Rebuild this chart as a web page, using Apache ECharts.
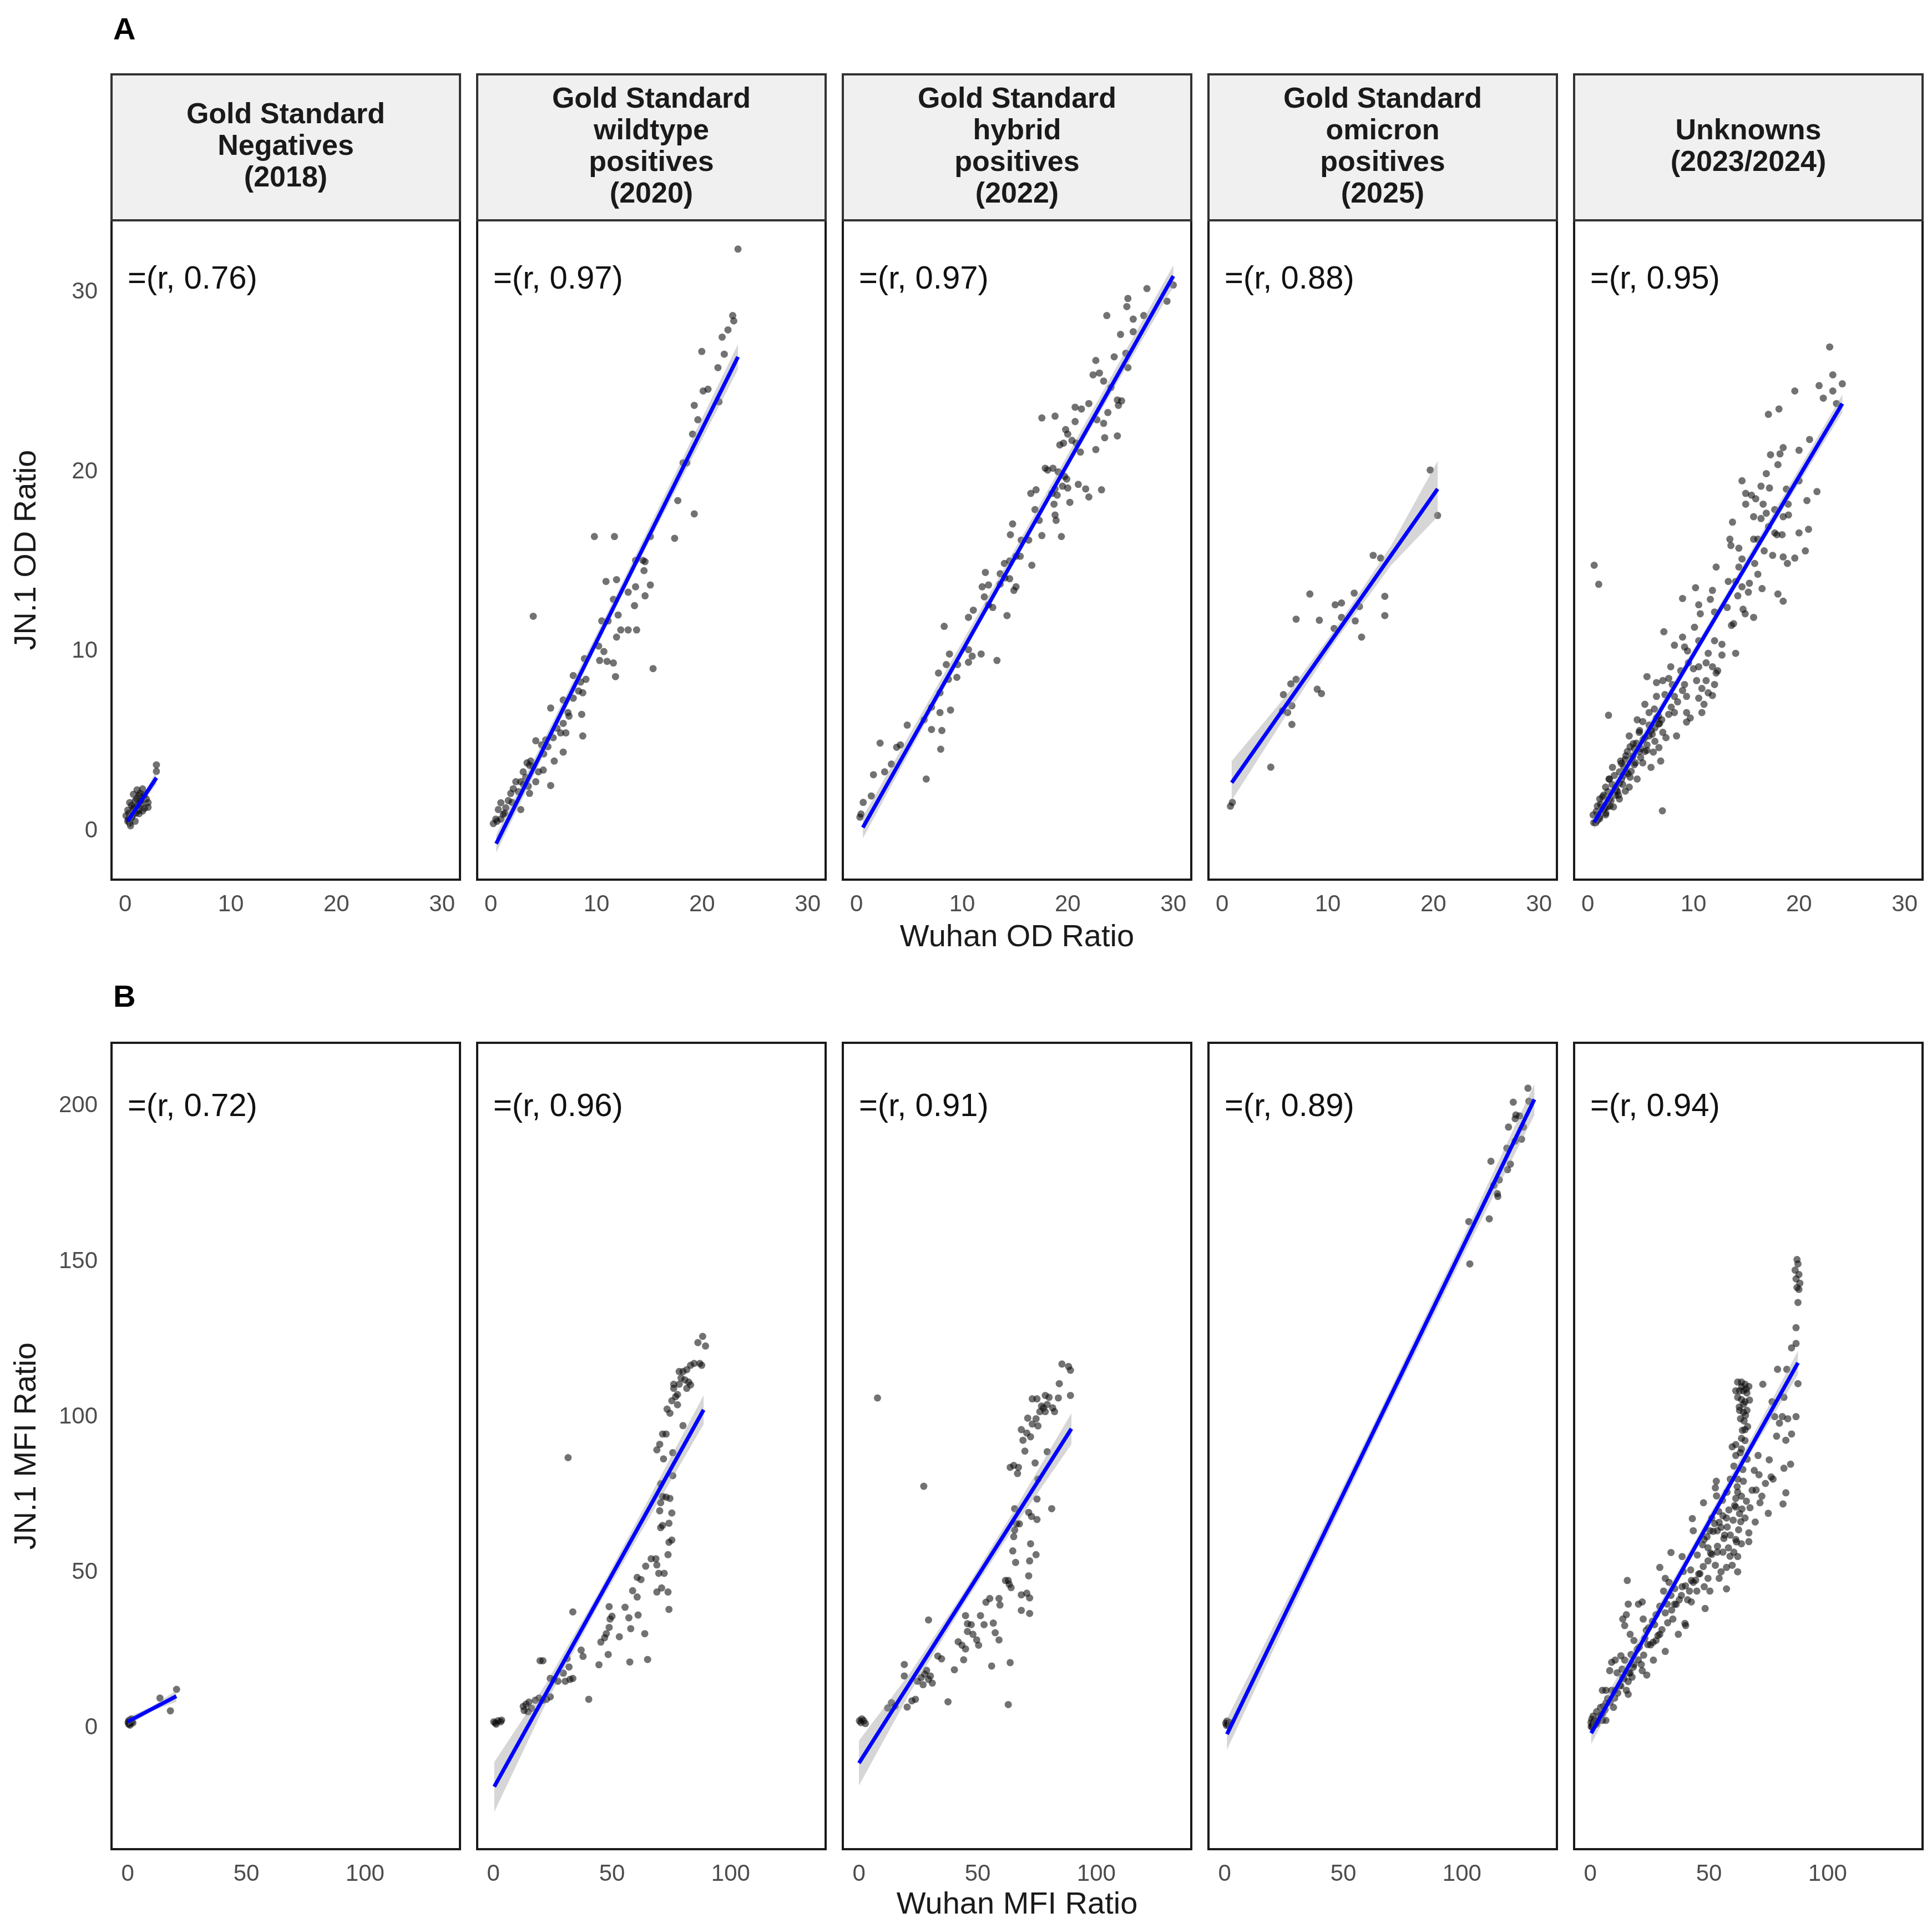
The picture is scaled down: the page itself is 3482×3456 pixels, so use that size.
<!DOCTYPE html>
<html lang="en">
<head>
<meta charset="UTF-8">
<title>JN.1 vs Wuhan ratios</title>
<script src="https://cdn.jsdelivr.net/npm/echarts@6/dist/echarts.min.js"></script>
<style>
  html, body { margin: 0; padding: 0; background: #fff; }
  #chart { width: 3482px; height: 3456px; }
</style>
</head>
<body>
<div id="chart"></div>
<script>
// ---- data ----
const panelTitles = [
  'Gold Standard\nNegatives\n(2018)',
  'Gold Standard\nwildtype\npositives\n(2020)',
  'Gold Standard\nhybrid\npositives\n(2022)',
  'Gold Standard\nomicron\npositives\n(2025)',
  'Unknowns\n(2023/2024)'
];
const rOD = ['0.76', '0.97', '0.97', '0.88', '0.95'];
const rMFI = ['0.72', '0.96', '0.91', '0.89', '0.94'];

const odTicks = [0, 10, 20, 30];
const mfiXTicks = [0, 50, 100];
const mfiYTicks = [0, 50, 100, 150, 200];

// panel A: OD ratio (x = Wuhan, y = JN.1)
const odNeg = [[2.95,3.69],[2.95,3.33],[0.24,0.55],[1.12,2.3],[1.64,2.35],[0.77,2.05],[1.3,1.99],[2.0,1.79],[2.16,1.59],[0.42,1.59],[0.94,1.69],[1.47,1.69],[0.24,1.17],[0.77,1.27],[1.82,1.27],[0.07,0.86],[0.6,0.76],[1.3,0.97],[0.42,0.45],[0.94,0.55],[1.64,1.12],[0.6,1.43],[2.16,1.33],[1.2,1.43],[0.5,0.3],[0.3,0.65],[1.0,1.0],[1.4,2.1],[1.8,2.0],[1.1,1.8],[0.7,0.9],[0.35,1.0],[1.55,1.5],[0.85,1.3],[1.25,1.15]];

const odWild = [[23.4,32.4],[22.9,28.7],[23.0,28.4],[22.45,27.9],[21.9,27.5],[19.97,26.7],[22.1,26.55],[21.5,25.8],[21.6,23.9],[20.56,24.6],[20.1,24.5],[19.26,23.7],[19.6,22.9],[19.1,22.1],[18.55,20.5],[18.2,20.5],[17.7,18.4],[19.26,17.66],[17.4,16.3],[9.8,16.4],[11.7,16.4],[15.1,16.4],[13.7,15.07],[14.4,15.07],[14.6,15.0],[14.5,14.5],[10.9,13.9],[11.9,14.0],[15.1,13.7],[13.0,13.3],[13.7,13.6],[14.6,13.1],[13.6,12.55],[11.6,12.9],[12.05,12.03],[4.01,11.96],[10.5,11.7],[11.1,11.7],[12.3,11.2],[13.0,11.2],[13.8,11.2],[11.9,10.8],[10.2,10.3],[10.7,10.0],[10.3,9.5],[11.0,9.45],[11.6,9.36],[15.36,9.05],[11.8,8.6],[8.86,9.6],[7.8,8.66],[8.5,8.3],[9.0,8.45],[8.3,7.8],[8.7,7.7],[7.8,7.4],[5.66,6.85],[8.6,6.5],[6.85,7.3],[7.3,6.6],[7.4,6.4],[6.85,6.0],[6.6,5.47],[7.1,5.47],[8.7,5.3],[6.26,5.73],[5.9,5.2],[6.85,4.4],[6.0,3.9],[5.66,2.54],[4.25,5.03],[4.8,4.8],[5.2,5.08],[5.4,4.7],[4.96,3.4],[4.5,3.3],[4.25,2.75],[3.42,3.8],[3.66,3.66],[3.77,3.9],[3.06,3.3],[3.3,3.0],[2.83,2.75],[3.66,2.1],[3.54,2.5],[2.36,2.75],[2.12,2.36],[1.88,2.1],[1.65,1.7],[2.83,1.2],[0.94,1.58],[0.7,1.2],[1.17,0.93],[0.46,0.67],[0.23,0.42],[0.58,0.55],[0.94,0.67],[1.41,1.3],[2.6,2.2],[3.1,2.6],[1.3,1.0],[2.0,1.6],[4.0,3.6],[5.0,4.3]];

const odHybrid = [[30.0,30.4],[29.4,29.5],[27.5,30.2],[25.7,29.65],[25.6,29.2],[23.7,28.7],[26.2,28.5],[27.2,28.7],[25.0,27.65],[26.2,27.8],[24.4,26.4],[25.7,25.8],[25.5,26.6],[22.66,26.2],[23.0,25.5],[22.4,25.4],[23.4,25.05],[24.1,24.7],[24.7,24.0],[25.1,23.95],[24.8,23.7],[23.8,23.3],[22.0,23.8],[20.7,23.6],[21.3,23.5],[17.55,23.0],[18.8,23.1],[20.7,22.8],[22.76,22.9],[23.4,22.7],[23.5,21.9],[24.7,22.0],[22.66,21.24],[19.8,22.35],[20.0,22.1],[19.25,21.5],[19.6,21.6],[20.4,21.75],[20.8,21.6],[21.2,21.1],[17.87,20.2],[18.1,20.1],[18.6,20.2],[19.1,20.0],[19.7,19.75],[19.9,19.6],[19.5,19.2],[20.0,19.1],[18.8,19.05],[18.5,18.8],[19.0,18.7],[18.7,18.2],[18.9,17.3],[18.8,17.6],[21.0,19.3],[21.7,19.05],[22.0,18.6],[23.2,19.0],[20.2,18.3],[19.4,16.4],[17.55,16.45],[17.3,17.3],[16.9,17.9],[17.0,19.0],[16.5,18.8],[14.78,17.1],[14.57,16.5],[15.6,16.2],[16.3,16.2],[15.1,15.3],[15.5,15.3],[14.0,14.9],[14.5,15.04],[16.6,14.8],[13.6,14.33],[14.04,14.1],[14.5,14.05],[12.2,14.4],[11.9,13.6],[12.5,13.7],[13.6,13.75],[15.1,13.6],[14.9,13.4],[12.1,13.04],[12.5,12.6],[12.9,12.45],[14.25,12.0],[10.6,11.9],[11.06,12.3],[8.3,11.4],[8.8,9.86],[8.5,9.27],[9.57,9.27],[8.7,8.45],[9.5,8.56],[10.6,10.1],[10.95,9.74],[11.8,9.86],[10.6,9.4],[13.3,9.5],[7.76,8.8],[7.9,7.7],[7.1,6.9],[7.9,6.6],[8.9,6.74],[7.1,5.66],[8.08,5.6],[7.97,4.56],[6.6,2.9],[6.4,6.2],[4.8,5.9],[4.15,4.8],[3.8,4.67],[3.3,3.73],[2.66,3.3],[2.23,4.9],[1.6,3.14],[1.4,1.96],[0.63,1.6],[0.42,0.95],[0.32,0.78]];

const odOmicron = [[19.7,20.1],[20.4,17.57],[14.3,15.35],[15.0,15.2],[8.3,13.2],[12.5,13.25],[10.7,12.6],[11.3,12.7],[13.0,12.5],[15.4,13.07],[15.4,12.0],[7.0,11.8],[9.2,11.74],[11.3,11.9],[12.6,11.7],[10.6,11.28],[13.2,10.8],[7.0,8.45],[6.5,8.2],[5.8,7.6],[9.0,7.9],[9.4,7.66],[6.6,6.98],[6.2,6.6],[5.7,6.7],[6.6,5.94],[4.6,3.56],[0.96,1.6],[0.78,1.39]];

const odUnknown = [[22.9,26.95],[23.2,25.4],[24.1,24.9],[21.9,24.8],[23.2,24.5],[22.3,24.1],[23.55,23.8],[19.6,24.5],[18.1,23.5],[17.1,23.2],[21.0,21.8],[20.0,21.2],[18.5,21.35],[18.2,21.0],[17.3,20.95],[18.0,20.4],[16.9,19.9],[14.6,19.5],[16.4,19.2],[17.2,19.1],[18.8,19.04],[20.0,19.5],[21.7,18.9],[20.75,18.4],[14.95,18.8],[15.5,18.7],[15.9,18.5],[14.95,18.2],[16.6,18.2],[18.97,18.2],[15.7,17.5],[16.4,17.4],[16.9,17.7],[17.7,17.9],[18.5,17.5],[19.0,17.6],[13.7,17.2],[17.1,16.95],[17.7,16.6],[17.9,16.5],[18.4,16.5],[20.0,16.6],[20.9,16.8],[13.45,16.25],[13.55,15.9],[14.3,15.75],[15.7,16.25],[16.1,16.25],[16.7,15.6],[17.5,15.35],[18.5,15.26],[18.9,14.9],[19.6,15.2],[20.6,15.6],[14.6,15.15],[14.3,14.7],[15.8,14.9],[12.15,14.7],[16.1,14.3],[13.3,13.9],[14.0,13.9],[15.3,13.8],[15.2,13.3],[14.6,13.6],[16.5,13.5],[18.0,13.2],[18.5,12.8],[14.2,13.1],[13.2,12.45],[14.7,12.35],[14.9,12.1],[15.7,11.9],[13.8,11.55],[13.6,11.45],[10.2,13.55],[11.8,13.4],[11.6,12.9],[10.5,12.6],[10.65,12.1],[8.97,12.95],[12.0,12.2],[10.1,11.35],[7.2,11.1],[8.97,10.8],[8.2,10.35],[9.16,10.25],[9.44,10.03],[10.5,10.6],[12.0,10.6],[12.7,10.4],[14.0,9.9],[12.7,9.8],[11.4,9.9],[7.85,9.15],[8.8,8.93],[9.53,9.37],[10.0,9.04],[10.5,9.15],[11.2,9.37],[11.8,9.15],[12.3,8.93],[5.6,8.6],[6.5,8.27],[7.1,8.38],[7.66,8.5],[8.0,8.16],[9.16,8.16],[10.3,8.38],[11.2,8.38],[12.0,8.16],[12.15,8.8],[5.4,7.06],[6.5,7.5],[7.3,7.6],[8.2,7.5],[8.97,7.83],[9.35,7.5],[10.5,7.4],[10.8,7.94],[11.4,7.7],[11.8,7.55],[1.96,6.45],[4.67,6.2],[5.8,6.6],[6.7,6.4],[7.66,6.5],[8.2,6.6],[9.35,6.6],[9.7,6.3],[10.8,6.6],[11.0,7.06],[8.4,5.3],[9.35,6.07],[6.7,5.96],[7.1,5.5],[6.35,5.75],[3.92,5.3],[4.3,4.87],[4.86,5.5],[5.23,5.1],[5.8,5.3],[6.35,5.0],[6.73,4.65],[6.9,3.9],[5.98,3.55],[5.4,4.43],[4.86,4.43],[4.3,4.2],[3.74,4.43],[3.55,3.99],[3.18,3.77],[4.11,3.33],[4.67,2.9],[3.36,3.1],[2.99,2.67],[2.61,2.45],[2.33,3.55],[2.05,2.9],[1.68,2.45],[1.49,2.0],[1.12,1.79],[1.31,1.35],[0.93,0.91],[0.75,0.47],[2.05,1.79],[2.43,1.35],[2.99,1.79],[3.55,2.23],[3.92,2.45],[2.61,2.0],[1.87,1.35],[1.68,0.91],[1.12,0.69],[7.06,1.13],[0.56,0.47],[0.6,14.8],[1.03,13.74],[4.5,3.8],[5.0,4.1],[3.2,2.9],[2.8,2.2],[4.0,3.0],[5.6,4.8],[6.0,5.6],[4.4,4.6],[3.6,3.3],[2.2,1.7],[1.5,1.2],[0.9,0.6],[5.2,3.8],[6.2,4.4],[7.4,5.2],[6.8,6.0],[7.9,6.9],[8.5,7.2],[0.8,1.1],[1.2,1.5],[1.6,1.3],[1.9,2.2],[2.3,2.6],[2.7,2.3],[3.0,3.3],[3.4,3.6],[3.8,3.2],[4.2,4.1],[4.6,4.9],[5.0,4.6],[5.4,5.2],[5.8,5.9],[6.1,5.4],[6.5,6.3],[2.0,2.9],[2.5,3.1],[3.3,2.6],[4.0,4.7],[4.9,5.6],[5.6,4.5],[1.4,1.9],[0.9,1.4],[1.7,1.0],[3.6,4.2],[4.4,3.7],[5.2,6.1],[6.3,6.8],[7.0,6.2],[2.1,1.4],[2.9,2.0],[0.5,0.9],[1.1,0.8],[3.1,3.9]];

// panel B: MFI ratio
const mfiNeg = [[20.6,12.4],[13.6,9.6],[18.0,5.5],[0.5,2.4],[1.6,2.9],[0.2,1.8],[0.8,1.5],[1.8,2.1],[1.2,2.6],[0.4,1.2],[2.2,1.6],[1.0,0.9]];

const mfiWild = [[0.2,1.97],[0.8,1.6],[2.0,2.3],[3.1,1.97],[1.2,1.2],[3.5,2.5],[31.5,86.9],[33.5,37.3],[19.7,21.6],[20.9,21.6],[12.6,6.9],[13.8,7.6],[15.0,8.3],[16.1,6.3],[14.6,5.2],[13.0,5.6],[17.7,8.9],[19.3,9.6],[20.9,8.9],[22.4,9.2],[24.0,10.0],[24.0,15.9],[25.6,15.6],[27.2,15.0],[29.5,17.6],[30.3,15.0],[31.9,19.6],[32.3,15.6],[33.5,15.9],[31.1,22.3],[37,25.0],[37.8,23.0],[40.2,9.2],[44.5,20.3],[48.4,23.6],[45.3,27.6],[46.9,29.0],[47.6,30.3],[48.8,32.3],[49.2,35.0],[50.0,35.9],[48.8,39.0],[53.1,29.3],[55.5,38.8],[57.1,35.4],[57.9,31.9],[61.0,36.3],[63.8,30.3],[57.5,21.2],[65,22.0],[58.7,44.1],[60.6,42.1],[60.6,48.4],[62.2,47.7],[64.2,52.0],[66.5,54.4],[68.5,54.4],[68.9,52.4],[69.7,49.7],[72.0,49.7],[68.9,43.7],[70.9,45.0],[73.6,43.7],[74.0,38.1],[73.6,55.7],[74.0,59.7],[75.2,60.4],[70.5,64.4],[71.3,65.1],[74.0,65.8],[75.2,69.1],[70.1,69.8],[70.5,72.4],[71.3,74.4],[72.8,74.2],[74.4,73.8],[75.6,81.1],[75.6,88.5],[70.5,78.5],[71.7,86.5],[68.9,89.4],[70.1,91.2],[71.3,94.5],[72.8,94.5],[74.4,101.2],[73.2,102.5],[75.2,105.2],[76.8,106.5],[76.0,109.2],[78.3,110.5],[79.1,112.5],[80.7,111.9],[82.3,111.2],[79.9,114.6],[81.5,115.2],[83.1,116.6],[78.3,114.6],[76.0,110.5],[77.6,103.9],[79.9,97.2],[84.6,117.2],[87.0,117.2],[87.8,116.6],[86.2,123.9],[88.2,125.9],[89.4,122.8],[81.5,109.2],[83.1,110.3],[77.6,107.2]];

const mfiHybrid = [[0.2,2.3],[0.8,1.7],[2.0,2.3],[2.7,1.4],[1.2,2.9],[7.8,106.1],[27.3,77.7],[29.3,34.7],[19.1,20.4],[19.1,16.7],[12.1,6.4],[13.7,8.1],[15.2,7.0],[20.3,6.7],[22.3,8.7],[23.8,9.2],[37.5,8.4],[62.9,7.5],[24.6,15.0],[26.2,16.2],[27.7,17.3],[29.3,15.6],[30.9,14.4],[27.0,13.9],[28.5,18.5],[30.1,16.7],[33.2,23.1],[34.8,22.2],[40.2,18.7],[44.1,21.9],[41.8,27.7],[43.4,26.6],[44.9,25.4],[44.9,36.1],[45.7,33.5],[47.3,33.2],[45.7,31.0],[48.0,30.1],[49.6,28.3],[50.4,26.6],[51.2,36.1],[52.7,33.2],[53.5,40.4],[55.1,41.6],[56.6,33.7],[57.4,30.6],[59.0,28.3],[55.9,19.9],[63.7,21.0],[59.0,41.6],[59.4,39.5],[61.7,47.4],[63.3,46.2],[64.1,45.1],[62.9,47.4],[68.4,42.8],[70.7,43.3],[71.9,41.8],[68.4,37.8],[71.9,36.8],[71.5,48.9],[71.9,53.7],[74.6,55.7],[72.3,59.2],[66.0,53.2],[64.8,56.9],[65.2,61.5],[65.6,63.6],[66.4,65.6],[67.6,65.6],[65.6,70.5],[71.5,69.3],[72.7,68.0],[75.0,67.0],[81.2,70.5],[75.0,73.6],[75.4,80.0],[74.2,85.2],[63.7,83.8],[65.2,84.4],[67.2,83.8],[66.8,81.8],[69.9,89.0],[69.1,92.5],[70.7,94.8],[72.3,93.6],[68.4,95.9],[73.0,97.7],[74.6,99.4],[76.2,101.7],[77.7,102.9],[79.3,104.0],[81.6,102.9],[80.1,106.3],[78.5,106.9],[84.0,106.1],[89.1,106.9],[75.0,105.8],[73.0,105.8],[75.4,97.1],[79.3,88.8],[71.1,99.6],[84.4,110.7],[85.5,117.0],[88.3,116.2],[89.1,115.0],[78.5,101.7],[76.9,103.5],[82.4,101.7]];

const mfiOmicron = [[0.5,1.5],[1.0,2.2],[1.5,1.0],[2.0,1.8],[0.8,0.8],[127.8,205.7],[121.6,201.2],[128.2,201.5],[122.7,197.1],[122.4,195.9],[124.3,196.8],[119.6,193.2],[125.9,193.2],[125.1,189.3],[122.4,188.7],[118.9,186.4],[112.2,182.2],[120.4,181.3],[119.2,179.5],[115.7,176.2],[113.4,174.5],[114.9,171.8],[115.1,170.9],[111.5,163.7],[102.9,162.8],[103.3,149.2]];

const mfiUnknown = [[87.1,150.6],[87.5,149.2],[86.3,147.2],[87.9,145.8],[86.7,144.4],[88.3,143],[87.1,141.6],[87.9,141],[87.5,136.8],[86.7,128.7],[86.7,123.6],[84.8,122.2],[87.5,110.7],[86.7,100.1],[78.9,115.3],[82.8,115.3],[72.7,110.5],[81.6,106.3],[76.6,104.9],[77.7,100.1],[80.9,100.1],[83.2,99.4],[79.7,98.0],[78.5,93.8],[84.8,94.5],[82.4,92.5],[84.4,84.8],[81.6,83.5],[77,80],[82.4,75.6],[81.2,72],[75,69],[73.8,78.6],[75.4,86.2],[70.7,87.6],[69.1,82.8],[71.1,81.4],[69.9,76.5],[72.3,74.5],[71.5,72.4],[76.2,80.7],[62.1,111.2],[63.7,111.2],[65.2,110.5],[66.8,109.8],[61.3,108.4],[62.9,108.4],[64.5,108.4],[66,107.7],[62.1,106.3],[63.7,105.6],[65.2,104.9],[62.9,102.1],[64.5,101.5],[66,102.1],[63.3,99.4],[64.8,98.7],[65.2,95.9],[63.7,93.1],[61.3,91.1],[63.7,89.7],[65.2,92.4],[59.8,90.4],[61.3,87.6],[53.1,79.3],[52.7,77.2],[47.7,72.4],[59,80],[62.1,80],[64.5,79.3],[62.1,75.8],[61.3,73.8],[63.7,74.5],[61.3,71],[62.9,68.9],[65.2,67.5],[55.9,68.2],[57.4,67.5],[54.3,66.1],[51.2,67.5],[50.4,63.4],[43,67.3],[43.4,63.4],[53.5,63.4],[56.6,62],[59,62],[61.3,60.6],[63.7,59.2],[66.8,62.7],[66.8,59.9],[48,60.6],[49.6,57.9],[51.2,55.8],[53.5,56.5],[55.9,56.5],[58.2,57.9],[60.5,56.5],[62.1,55.1],[49.6,53.7],[52.7,52.3],[55.1,50.2],[57.4,51.6],[59.8,52.3],[62.1,50.2],[54.3,48.1],[57.4,44.7],[45.7,49.5],[49.6,48.1],[48,45.4],[50.4,44],[48.4,38.4],[43.4,46.8],[44.9,44],[41.8,44],[41,41.2],[42.6,40.5],[38.7,45.4],[37.5,41.2],[34,56.4],[38.7,55.1],[42.6,47.4],[29.3,51.6],[31.6,48.1],[33.2,46.8],[30.9,44],[34,42.6],[32.4,39.8],[35.5,39.8],[39.9,33.6],[40.2,32.9],[37.1,30.1],[34.8,35],[31.6,37],[29.3,39.1],[27.7,36.4],[26.2,34.3],[24.6,32.2],[22.3,35],[21.9,40.5],[20.3,39.8],[15.6,47.4],[16,39.8],[15.2,36.4],[13.7,35],[14.5,32.9],[16.8,30.1],[18.4,28.1],[20.7,26],[23,28.8],[25.4,26.7],[27.7,28.1],[29.3,30.1],[31.6,24.6],[26.6,21.8],[23.8,17],[21.5,20.4],[21.9,18.4],[18.4,20.4],[16.8,17.7],[14.5,21.8],[12.9,23.2],[10.5,21.8],[9,21.1],[8.2,18.4],[11.3,17.7],[13.7,16.3],[16,14.9],[17.6,16.3],[15.2,12.1],[16,10.8],[10.5,12.1],[9,12.1],[6.6,12.1],[5.1,12.1],[9.8,6.6],[6.6,8],[4.3,6.6],[2.7,5.2],[1.2,3.8],[0.3,1.7],[0.4,0.4],[2,2.4],[3.5,3.8],[5.1,4.5],[6.6,2.4],[5.1,2.4],[12.9,13.5],[1.0,1.0],[1.8,2.0],[2.6,1.2],[0.6,2.8],[49.2,61.5],[51.8,63.2],[53.6,58.4],[56.3,60.9],[57.7,64.6],[60.2,66.8],[62.5,63.7],[63.9,70.4],[65.8,72.9],[58.4,70.1],[55.7,73.2],[60.8,71.5],[61.9,77.6],[64.3,83.1],[66.1,86.4],[60.5,84.2],[57.6,75.8],[54.1,69.6],[52.4,65.7],[50.7,56.2],[47.6,51.9],[46.2,49.6],[44.4,47.5],[42.3,50.8],[40.1,45.7],[38.4,42.6],[36.2,39.7],[34.3,37.9],[32.6,33.8],[30.2,31.6],[28.5,29.7],[26.4,27.5],[24.2,26.8],[22.5,23.4],[20.3,21.9],[18.1,19.5],[16.3,17.6],[14.2,15.8],[12.4,13.7],[10.3,9.6],[8.4,8.2],[6.2,5.8],[4.5,4.3],[3.1,2.2],[1.5,0.9],[2.4,1.6],[0.8,0.3],[5.5,6.9],[7.3,9.4],[11.6,11.2],[13.4,18.9],[17.2,23.6],[19.8,25.3],[23.6,31.4],[27.1,33.2],[35.6,44.8],[39.2,50.3],[45.1,55.6],[47.3,58.9],[53.2,74.6],[55.1,64.5],[58.9,55.2],[61.6,59.8],[63.4,66.3],[67.3,70.8],[68.2,76.4],[69.5,66.2],[63.2,88.5],[64.6,104.1],[65.7,108.9],[63.8,109.7],[62.8,103.2],[64.1,95.7],[65.4,100.5],[66.3,96.9],[67.1,105.4]];

// fitted lines [x0, y0, x1, y1] and confidence bands [x, lower, upper]
const odFits = [[0.24,0.55,2.95,2.97],[0.5,-0.7,23.4,26.4],[0.6,0.2,30.0,30.9],[0.9,2.7,20.4,19.05],[0.6,0.5,24.1,23.8]];
const mfiFits = [[0,2.0,20.5,10.2],[0.4,-18.9,88.6,102.3],[0,-11.3,89.5,96.2],[1,-2,130.5,202.1],[0.4,-1.7,87.5,117.4]];
const odBands = [
  [[0.24,0.2,0.9],[1.6,1.6,1.9],[2.95,2.6,3.35]],
  [[0.5,-1.2,-0.2],[12,12.7,13.3],[23.4,25.7,27.1]],
  [[0.6,-0.4,0.8],[15,15.2,15.7],[30.0,30.3,31.5]],
  [[0.9,1.7,3.9],[6,6.4,7.5],[11,10.8,11.5],[16,14.8,15.9],[20.4,17.5,20.6]],
  [[0.6,0.1,0.9],[12,11.7,12.1],[24.1,23.3,24.3]]
];
const mfiBands = [
  [[0,0.6,3.4],[10,5.4,6.8],[20.5,8.4,12.0]],
  [[0.4,-27,-11],[22,7.6,14.0],[44,39.0,43.0],[66,68.0,74.4],[88.6,97.6,107]],
  [[0,-18.5,-4.1],[22,12,18.2],[44,39.5,43.5],[66,65.3,70.7],[89.5,91.2,101.2]],
  [[1,-7,3],[33,45.5,51.3],[66,98,102.8],[99,149.5,155.3],[130.5,197,207]],
  [[0.4,-5.2,1.8],[22,26.3,30.3],[44,56.8,59.8],[66,86.4,90.4],[87.5,113.6,121.2]]
];

// ---- layout ----
const colLeft = [201, 860, 1519, 2178, 2837];
const colW = 628;
const rows = [
  { top: 397, height: 1188, xMin: -1.3, xMax: 31.7, yMin: -2.7, yMax: 34.0,
    xTicks: odTicks, yTicks: odTicks, xName: 'Wuhan OD Ratio', yName: 'JN.1 OD Ratio',
    xNameGap: 77, points: [odNeg, odWild, odHybrid, odOmicron, odUnknown],
    fits: odFits, bands: odBands, r: rOD, annY: 504 },
  { top: 1879, height: 1453, xMin: -6.8, xMax: 140, yMin: -39, yMax: 220.3,
    xTicks: mfiXTicks, yTicks: mfiYTicks, xName: 'Wuhan MFI Ratio', yName: 'JN.1 MFI Ratio',
    xNameGap: 73, points: [mfiNeg, mfiWild, mfiHybrid, mfiOmicron, mfiUnknown],
    fits: mfiFits, bands: mfiBands, r: rMFI, annY: 1995 }
];

const FONT = '"Liberation Sans", Arial, Helvetica, sans-serif';

const grids = [], xAxes = [], yAxes = [], series = [], graphics = [];

rows.forEach((row, ri) => {
  for (let c = 0; c < 5; c++) {
    const idx = ri * 5 + c;
    grids.push({
      left: colLeft[c], top: row.top, width: colW, height: row.height,
      outerBoundsMode: 'none', containLabel: false,
      show: true, borderColor: '#1a1a1a', borderWidth: 4, backgroundColor: '#fff'
    });
    xAxes.push({
      type: 'value', gridIndex: idx, min: row.xMin, max: row.xMax,
      axisLine: { show: false }, axisTick: { show: false }, splitLine: { show: false },
      axisLabel: { customValues: row.xTicks, fontSize: 42, color: '#4d4d4d', margin: 24, fontFamily: FONT },
      name: c === 2 ? row.xName : '', nameLocation: 'middle', nameGap: row.xNameGap,
      nameTextStyle: { fontSize: 56, color: '#1a1a1a', fontFamily: FONT }
    });
    yAxes.push({
      type: 'value', gridIndex: idx, min: row.yMin, max: row.yMax,
      axisLine: { show: false }, axisTick: { show: false }, splitLine: { show: false },
      axisLabel: { show: c === 0, customValues: row.yTicks, fontSize: 42, color: '#4d4d4d', margin: 25, fontFamily: FONT },
      name: c === 0 ? row.yName : '', nameLocation: 'middle', nameGap: 124,
      nameTextStyle: { fontSize: 56, color: '#1a1a1a', fontFamily: FONT }
    });

    series.push({
      type: 'scatter', xAxisIndex: idx, yAxisIndex: idx, data: row.points[c],
      symbolSize: 13, silent: true, z: 2,
      itemStyle: { color: 'rgba(10,10,10,0.72)' }
    });

    const band = row.bands[c];
    series.push({
      type: 'custom', xAxisIndex: idx, yAxisIndex: idx, data: band, silent: true, z: 3,
      encode: { x: 0, y: [1, 2] },
      renderItem: function (params, api) {
        if (params.dataIndex !== 0) return null;
        const upper = band.map(b => api.coord([b[0], b[2]]));
        const lower = band.slice().reverse().map(b => api.coord([b[0], b[1]]));
        return {
          type: 'polygon',
          shape: { points: upper.concat(lower) },
          style: { fill: 'rgba(153,153,153,0.4)' }
        };
      }
    });

    const f = row.fits[c];
    series.push({
      type: 'line', xAxisIndex: idx, yAxisIndex: idx, silent: true, z: 4,
      data: [[f[0], f[1]], [f[2], f[3]]], showSymbol: false,
      lineStyle: { color: '#0000ff', width: 7 }
    });

    graphics.push({
      type: 'text', z: 100,
      style: { text: '=(r, ' + row.r[c] + ')', x: colLeft[c] + 29, y: row.annY,
        fontSize: 58, fontFamily: FONT, fill: '#111', textAlign: 'left', textVerticalAlign: 'middle' }
    });
  }
});

// strip headers above row A
for (let c = 0; c < 5; c++) {
  graphics.push({
    type: 'rect', z: 90,
    shape: { x: colLeft[c], y: 134, width: colW, height: 263 },
    style: { fill: '#f0f0f0', stroke: '#333', lineWidth: 4 }
  });
  graphics.push({
    type: 'text', z: 91,
    style: { text: panelTitles[c], x: colLeft[c] + colW / 2, y: 265,
      fontSize: 52, fontWeight: 'bold', fontFamily: FONT, fill: '#1a1a1a', lineHeight: 57,
      textAlign: 'center', textVerticalAlign: 'middle' }
  });
}
// panel tags
[['A', 56], ['B', 1799]].forEach(t => {
  graphics.push({
    type: 'text', z: 100,
    style: { text: t[0], x: 204, y: t[1], fontSize: 56, fontWeight: 'bold', fontFamily: FONT,
      fill: '#000', textAlign: 'left', textVerticalAlign: 'middle' }
  });
});

const chart = echarts.init(document.getElementById('chart'), null, { renderer: 'canvas' });
chart.setOption({
  backgroundColor: '#fff',
  animation: false,
  grid: grids,
  xAxis: xAxes,
  yAxis: yAxes,
  series: series,
  graphic: graphics
});
</script>
</body>
</html>
